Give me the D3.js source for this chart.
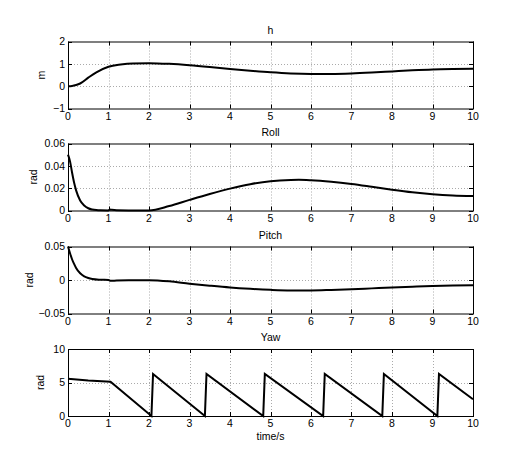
<!DOCTYPE html>
<html><head><meta charset="utf-8">
<script src="https://cdn.jsdelivr.net/npm/d3@7"></script>
<style>body{margin:0;background:#fff}svg{display:block}text{font-family:"Liberation Sans",Arial,sans-serif;fill:#000}</style>
</head><body><div id="chart"></div>
<script>
const xTicks = [0,1,2,3,4,5,6,7,8,9,10];

const hT = [0,0.1,0.2,0.3,0.5,0.7,1,1.3,1.6,2,2.5,3,3.5,4,4.5,5,5.5,6,6.5,7,7.5,8,8.5,9,9.5,10];
const hV = [0,0.01,0.05,0.12,0.38,0.62,0.87,0.97,1.02,1.03,1.0,0.94,0.86,0.77,0.69,0.62,0.57,0.55,0.55,0.57,0.61,0.66,0.71,0.75,0.77,0.78];

const rollT = [0,0.05,0.1,0.15,0.2,0.3,0.4,0.5,0.6,0.7,0.8,1,1.03,1.08,1.2,1.5,2,2.5,3,3.5,4,4.5,5,5.5,5.7,6,6.5,7,7.5,8,8.5,9,9.5,10];
const rollV = [0.05,0.044,0.034,0.025,0.018,0.009,0.0045,0.002,0.0009,0.0004,0.0002,0.0001,0.0009,0.0006,0.0002,0.0001,0.0001,0.004,0.0095,0.0148,0.0196,0.0236,0.0263,0.0274,0.0275,0.0271,0.0257,0.0237,0.0212,0.0186,0.0163,0.0146,0.0135,0.013];

const pitchT = [0,0.05,0.1,0.15,0.2,0.3,0.4,0.5,0.6,0.8,1,1.05,1.2,1.5,2,2.5,3,3.5,4,4.5,5,5.5,6,6.5,7,7.5,8,8.5,9,9.5,10];
const pitchV = [0.05,0.04,0.031,0.024,0.018,0.01,0.0055,0.003,0.0015,0.0004,0,-0.0012,-0.0008,-0.0004,-0.0003,-0.002,-0.0055,-0.0085,-0.0112,-0.0132,-0.0147,-0.0155,-0.0155,-0.0148,-0.0138,-0.0125,-0.0112,-0.01,-0.0089,-0.0082,-0.0078];

const yawT = [0,0.5,1.05,2.06,2.1,3.38,3.42,4.82,4.86,6.3,6.34,7.76,7.8,9.12,9.16,10];
const yawV = [5.55,5.3,5.12,0,6.28,0,6.28,0,6.28,0,6.28,0,6.28,0,6.28,2.5];

const panels = [
  {title:"h", ylabel:"m", t:hT, v:hV, yDomain:[-1,2], yTicks:[-1,0,1,2], fmt:d=>d<0?"\u2212"+Math.abs(d):String(d), top:41.5, curve:true, ylx:45},
  {title:"Roll", ylabel:"rad", t:rollT, v:rollV, yDomain:[0,0.06], yTicks:[0,0.02,0.04,0.06], fmt:d=>d===0?"0":d.toFixed(2), top:143.5, curve:true, ylx:37},
  {title:"Pitch", ylabel:"rad", t:pitchT, v:pitchV, yDomain:[-0.05,0.05], yTicks:[-0.05,0,0.05], fmt:d=>d===0?"0":(d<0?"\u2212"+Math.abs(d).toFixed(2):d.toFixed(2)), top:246.5, curve:true, ylx:33},
  {title:"Yaw", ylabel:"rad", t:yawT, v:yawV, yDomain:[0,10], yTicks:[0,5,10], fmt:d=>String(d), top:349, curve:false, ylx:44}
];

const W=525,H=468, left=68, right=473, ph=67;
const svg=d3.select("#chart").append("svg").attr("width",W).attr("height",H);
const x=d3.scaleLinear().domain([0,10]).range([left,right]);

panels.forEach((p,i)=>{
  const top=p.top, bot=top+ph;
  const y=d3.scaleLinear().domain(p.yDomain).range([bot,top]);
  const g=svg.append("g");
  g.selectAll(".gx").data(xTicks.slice(1,-1)).enter().append("line")
    .attr("x1",d=>Math.round(x(d))+0.5).attr("x2",d=>Math.round(x(d))+0.5).attr("y1",top).attr("y2",bot)
    .attr("stroke","#aaa").attr("stroke-width",1).attr("stroke-dasharray","1,2");
  g.selectAll(".gy").data(p.yTicks.slice(1,-1)).enter().append("line")
    .attr("y1",d=>Math.round(y(d))+0.5).attr("y2",d=>Math.round(y(d))+0.5).attr("x1",left).attr("x2",right)
    .attr("stroke","#aaa").attr("stroke-width",1).attr("stroke-dasharray","1,2");
  xTicks.forEach(d=>{
    const xx=Math.round(x(d))+0.5;
    g.append("line").attr("x1",xx).attr("x2",xx).attr("y1",bot).attr("y2",bot-4).attr("stroke","#000");
    g.append("line").attr("x1",xx).attr("x2",xx).attr("y1",top).attr("y2",top+4).attr("stroke","#000");
    g.append("text").attr("x",x(d)).attr("y",bot+11).attr("text-anchor","middle").attr("font-size",10.5).text(d);
  });
  p.yTicks.forEach(d=>{
    const yy=Math.round(y(d))+0.5;
    g.append("line").attr("x1",left).attr("x2",left+4).attr("y1",yy).attr("y2",yy).attr("stroke","#000");
    g.append("line").attr("x1",right).attr("x2",right-4).attr("y1",yy).attr("y2",yy).attr("stroke","#000");
    g.append("text").attr("x",left-3).attr("y",y(d)+3.8).attr("text-anchor","end").attr("font-size",10.5).text(p.fmt(d));
  });
  const data=p.t.map((t,k)=>[t,p.v[k]]);
  const line=d3.line().x(d=>x(d[0])).y(d=>y(d[1]));
  if(p.curve) line.curve(d3.curveMonotoneX);
  g.append("path").datum(data).attr("d",line).attr("fill","none").attr("stroke","#000").attr("stroke-width",2);
  g.append("rect").attr("x",left+0.5).attr("y",top+0.5).attr("width",right-left).attr("height",ph)
    .attr("fill","none").attr("stroke","#000").attr("stroke-width",1);
  g.append("text").attr("x",(left+right)/2).attr("y",top-8).attr("text-anchor","middle").attr("font-size",10.5).text(p.title);
  g.append("text").attr("transform",`translate(${p.ylx},${(top+bot)/2}) rotate(-90)`).attr("text-anchor","middle").attr("font-size",10.5).text(p.ylabel);
});
svg.append("text").attr("x",(left+right)/2).attr("y",440).attr("text-anchor","middle").attr("font-size",10.5).text("time/s");
</script></body></html>
